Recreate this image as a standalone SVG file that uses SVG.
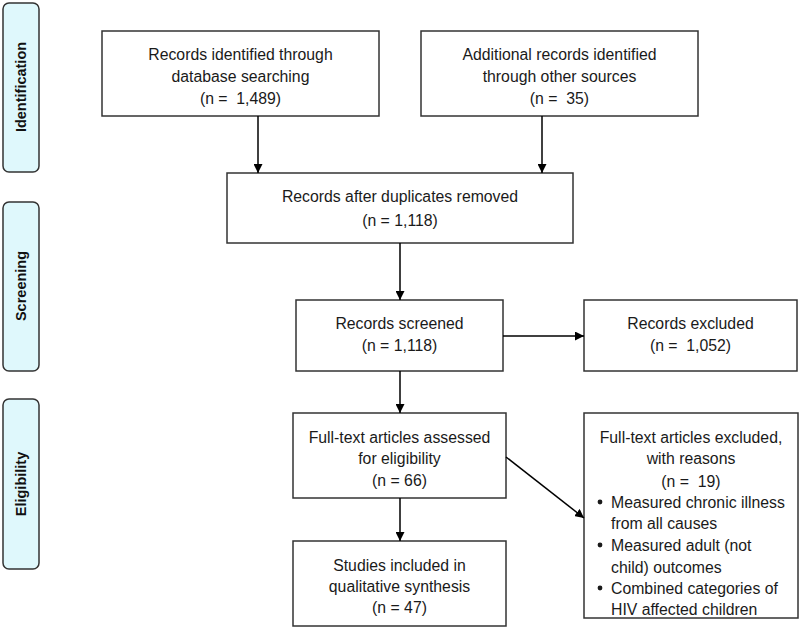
<svg xmlns="http://www.w3.org/2000/svg" width="800" height="629" viewBox="0 0 800 629">
<defs>
<marker id="ah" viewBox="0 0 10 10" refX="10" refY="5" markerWidth="9" markerHeight="9" markerUnits="userSpaceOnUse" orient="auto">
<path d="M0,0 L10,5 L0,10 z" fill="#000"/>
</marker>
<style>
.box{fill:#fff;stroke:#333;stroke-width:1.5}
.tab{fill:#dff8fc;stroke:#333;stroke-width:1.5}
.t{font-family:"Liberation Sans",Arial,sans-serif;font-size:15.8px;fill:#1a1a1a;text-anchor:middle;white-space:pre}
.l{text-anchor:start}
.tt{font-family:"Liberation Sans",Arial,sans-serif;font-size:14.5px;font-weight:bold;fill:#111;text-anchor:middle}
.c{stroke:#000;stroke-width:1.5;fill:none;marker-end:url(#ah)}
</style>
</defs>
<rect width="800" height="629" fill="#fff"/>
<g id="tab-identification"><rect class="tab" x="3" y="3" width="36" height="169" rx="6"/><text class="tt" transform="translate(26,87) rotate(-90)">Identification</text></g>
<g id="tab-screening"><rect class="tab" x="3" y="202" width="36" height="169" rx="6"/><text class="tt" transform="translate(26,286) rotate(-90)">Screening</text></g>
<g id="tab-eligibility"><rect class="tab" x="3" y="399" width="36" height="170" rx="6"/><text class="tt" transform="translate(26,484) rotate(-90)">Eligibility</text></g>

<g id="n1"><rect class="box" x="102" y="31" width="277" height="85"/>
<text class="t" x="240.5" y="60">Records identified through</text>
<text class="t" x="240.5" y="82">database searching</text>
<text class="t" x="240.5" y="104" xml:space="preserve">(n =  1,489)</text></g>
<g id="n2"><rect class="box" x="421" y="31" width="277" height="85"/>
<text class="t" x="559.5" y="60">Additional records identified</text>
<text class="t" x="559.5" y="82">through other sources</text>
<text class="t" x="559.5" y="104" xml:space="preserve">(n =  35)</text></g>
<g id="n3"><rect class="box" x="227" y="173" width="346" height="70"/>
<text class="t" x="400" y="202">Records after duplicates removed</text>
<text class="t" x="400" y="226">(n = 1,118)</text></g>
<g id="n4"><rect class="box" x="296" y="300" width="207" height="71"/>
<text class="t" x="399.5" y="329">Records screened</text>
<text class="t" x="399.5" y="351">(n = 1,118)</text></g>
<g id="n5"><rect class="box" x="584" y="300" width="213" height="71"/>
<text class="t" x="690.5" y="329">Records excluded</text>
<text class="t" x="690.5" y="351" xml:space="preserve">(n =  1,052)</text></g>
<g id="n6"><rect class="box" x="293" y="413" width="213" height="85"/>
<text class="t" x="399.5" y="443">Full-text articles assessed</text>
<text class="t" x="399.5" y="464">for eligibility</text>
<text class="t" x="399.5" y="486">(n = 66)</text></g>
<g id="n7"><rect class="box" x="293" y="541" width="213" height="85"/>
<text class="t" x="399.5" y="571">Studies included in</text>
<text class="t" x="399.5" y="592">qualitative synthesis</text>
<text class="t" x="399.5" y="613">(n = 47)</text></g>
<g id="n8"><rect class="box" x="584" y="413" width="214" height="205"/>
<text class="t" x="691" y="443">Full-text articles excluded,</text>
<text class="t" x="691" y="464">with reasons</text>
<text class="t" x="691" y="487" xml:space="preserve">(n =  19)</text>
<circle cx="600" cy="502" r="2.4" fill="#1a1a1a"/>
<text class="t l" x="611" y="508">Measured chronic illness</text>
<text class="t l" x="611" y="529">from all causes</text>
<circle cx="600" cy="545" r="2.4" fill="#1a1a1a"/>
<text class="t l" x="611" y="551">Measured adult (not</text>
<text class="t l" x="611" y="573">child) outcomes</text>
<circle cx="600" cy="588" r="2.4" fill="#1a1a1a"/>
<text class="t l" x="611" y="594">Combined categories of</text>
<text class="t l" x="611" y="615">HIV affected children</text></g>

<g id="connectors">
<line class="c" x1="258" y1="116" x2="258" y2="173"/>
<line class="c" x1="542" y1="116" x2="542" y2="173"/>
<line class="c" x1="400" y1="243" x2="400" y2="300"/>
<line class="c" x1="503" y1="336" x2="584" y2="336"/>
<line class="c" x1="400" y1="371" x2="400" y2="413"/>
<line class="c" x1="400" y1="498" x2="400" y2="541"/>
<line class="c" x1="506" y1="457" x2="584" y2="518"/>
</g>
</svg>
